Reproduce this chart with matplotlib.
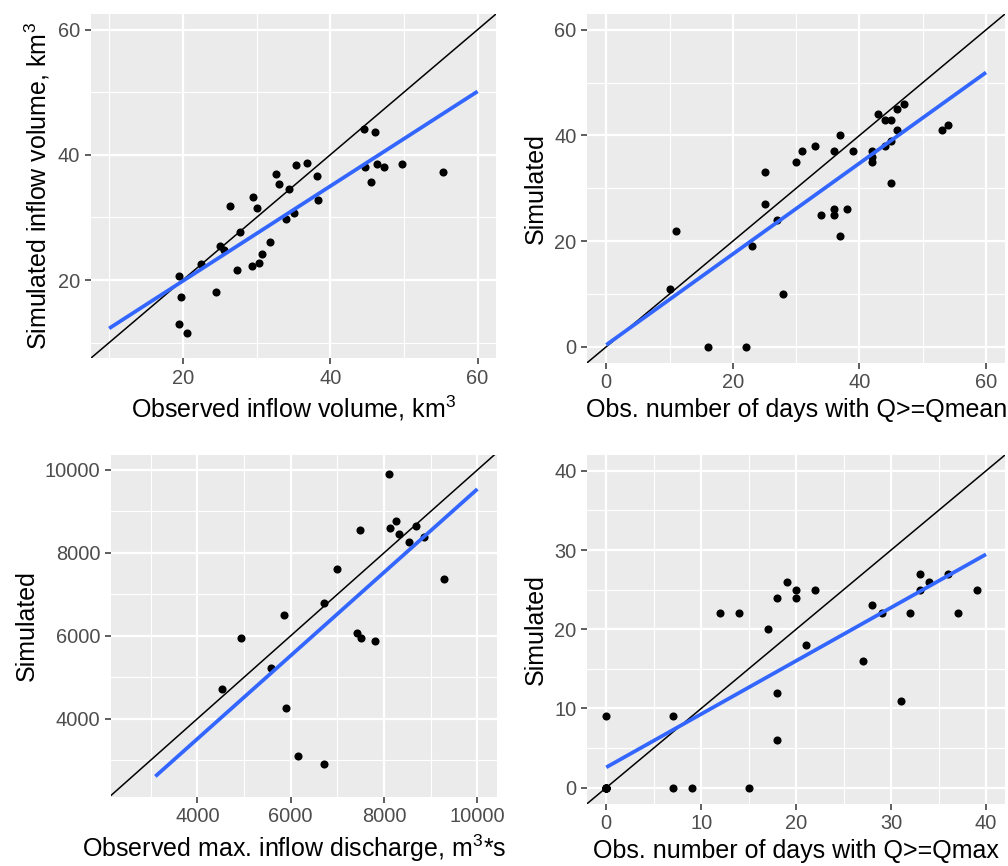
import numpy as np
import matplotlib
matplotlib.use("Agg")
import matplotlib.pyplot as plt
from matplotlib.transforms import Bbox, TransformedBbox

plt.rcParams['font.family'] = ['Liberation Sans', 'DejaVu Sans']
plt.rcParams['mathtext.fontset'] = 'custom'
plt.rcParams['mathtext.rm'] = 'Liberation Sans'
plt.rcParams['mathtext.it'] = 'Liberation Sans'

# panel 1: inflow volume, km3
vol_obs = [44.6, 46.1, 35.4, 36.9, 32.7, 38.2, 33.0, 34.4, 44.7, 46.4, 47.3, 49.8,
           45.6, 55.3, 38.3, 29.5, 30.1, 26.4, 35.1, 34.0, 27.8, 31.8, 25.1, 25.6,
           30.8, 30.3, 29.4, 27.3, 22.5, 19.5, 24.5, 19.8, 19.5, 20.6]
vol_sim = [44.1, 43.6, 38.4, 38.7, 36.9, 36.6, 35.3, 34.6, 38.1, 38.5, 38.1, 38.6,
           35.7, 37.3, 32.8, 33.2, 31.5, 31.8, 30.7, 29.7, 27.7, 26.0, 25.4, 24.8,
           24.1, 22.7, 22.3, 21.6, 22.5, 20.6, 18.1, 17.3, 13.0, 11.5]

# panel 2: days with Q >= Qmean
qmean_obs = [10, 11, 16, 22, 23, 28, 25, 25, 27, 30, 31, 33, 34, 36, 36, 36, 37,
             37, 38, 39, 42, 42, 42, 43, 44, 45, 44, 45, 45, 46, 46, 47, 53, 54]
qmean_sim = [11, 22, 0, 0, 19, 10, 27, 33, 24, 35, 37, 38, 25, 26, 25, 37, 40,
             21, 26, 37, 37, 36, 35, 44, 43, 43, 38, 39, 31, 41, 45, 46, 41, 42]

# panel 3: max inflow discharge, m3/s
qmax_obs = [8107, 7493, 8250, 8129, 8686, 8314, 8536, 8864, 6993, 9286, 6707,
            5857, 4943, 7414, 7507, 7807, 5579, 4521, 5893, 6150, 6707]
qmax_sim = [9903, 8559, 8768, 8599, 8639, 8446, 8253, 8374, 7618, 7377, 6782,
            6492, 5938, 6058, 5954, 5865, 5230, 4708, 4265, 3091, 2898]

# panel 4: days with Q >= Qmax (several years overlap at 0/0)
dmax_obs = [0, 0, 0, 0, 0, 0, 0, 0, 7, 7, 9, 15, 12, 14, 17, 18, 18, 18, 19, 20,
            20, 21, 22, 27, 28, 29, 31, 32, 33, 33, 34, 36, 37, 39]
dmax_sim = [9, 0, 0, 0, 0, 0, 0, 0, 9, 0, 0, 0, 22, 22, 20, 24, 12, 6, 26, 25,
            24, 18, 25, 16, 23, 22, 11, 22, 27, 25, 26, 27, 22, 25]

xlabels = [r'Observed inflow volume, km$^3$',
           'Obs. number of days with Q>=Qmean',
           r'Observed max. inflow discharge, m$^3$*s$^{-1}$',
           'Obs. number of days with Q>=Qmax']
ylabels = [r'Simulated inflow volume, km$^3$', 'Simulated', 'Simulated', 'Simulated']

W, H = 1008, 866
fig = plt.figure(figsize=(W / 100, H / 100), dpi=100)


def px_axes(l, t, r, b):
    return fig.add_axes([l / W, (H - b) / H, (r - l) / W, (b - t) / H])


panels = [
    dict(box=(90.7, 14, 496, 358.3), x=vol_obs, y=vol_sim, lim=((7.5, 62.5), (7.5, 62.5)),
         fit=(10, 60), major=np.arange(20, 61, 20), minor=np.arange(10, 61, 20), clip=504),
    dict(box=(587.3, 14, 1005, 362.6), x=qmean_obs, y=qmean_sim, lim=((-3, 63), (-3, 63)),
         fit=(0, 60), major=np.arange(0, 61, 20), minor=np.arange(10, 61, 20), clip=1008),
    dict(box=(111, 455, 497, 796.7), x=qmax_obs, y=qmax_sim, lim=((2150, 10420), (2120, 10360)),
         fit=(3100, 10000), major=np.arange(4000, 10001, 2000), minor=np.arange(3000, 10001, 2000),
         clip=505),
    dict(box=(587.3, 455, 1005, 803.5), x=dmax_obs, y=dmax_sim, lim=((-2, 42), (-2, 42)),
         fit=(0, 40), major=np.arange(0, 41, 10), minor=np.arange(5, 41, 10), clip=1008),
]

for i, p in enumerate(panels):
    ax = px_axes(*p['box'])
    ax.set_facecolor('#EBEBEB')
    for s in ax.spines.values():
        s.set_visible(False)
    ax.set_xlim(*p['lim'][0])
    ax.set_ylim(*p['lim'][1])
    ax.set_xticks(p['major'])
    ax.set_yticks(p['major'])
    ax.set_xticks(p['minor'], minor=True)
    ax.set_yticks(p['minor'], minor=True)
    ax.grid(which='major', color='white', lw=1.6)
    ax.grid(which='minor', color='white', lw=0.8)
    ax.set_axisbelow(True)
    ax.tick_params(which='major', length=4.3, width=1.1, color='#333333',
                   labelcolor='#4D4D4D', labelsize=14.4, pad=3.3)
    ax.tick_params(which='minor', length=0)

    x = np.array(p['x'], float)
    y = np.array(p['y'], float)
    ax.scatter(x, y, s=34, color='black', zorder=3, linewidths=0)
    ax.axline((0, 0), slope=1, color='black', lw=1.1, zorder=2)
    k, b0 = np.polyfit(x, y, 1)
    xf = np.array(p['fit'], float)
    ax.plot(xf, k * xf + b0, color='#3366FF', lw=2.7, zorder=4, solid_capstyle='butt')

    ax.set_xlabel(xlabels[i], fontsize=18, labelpad=4.4)
    ax.set_ylabel(ylabels[i], fontsize=18, labelpad=4.4)
    lab = ax.xaxis.label
    lab.set_clip_on(True)
    lab.set_clip_box(TransformedBbox(Bbox([[0, 0], [p['clip'] / W, 1]]), fig.transFigure))

fig.savefig('out.png', dpi=100)
